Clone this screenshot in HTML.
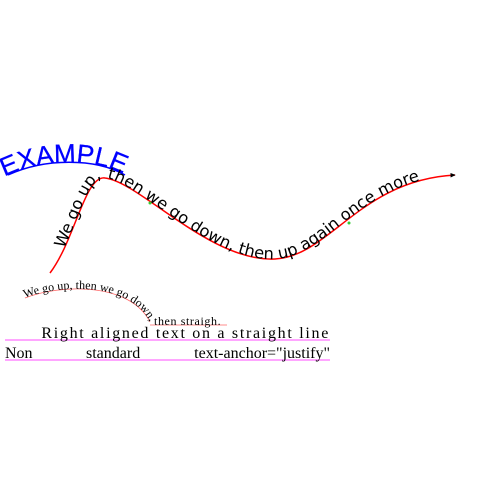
<!DOCTYPE html>
<html><head><meta charset="utf-8"><style>html,body{margin:0;padding:0;background:#fff}svg{display:block}</style></head>
<body>
<svg width="500" height="500" viewBox="0 0 500 500" xmlns="http://www.w3.org/2000/svg">
<defs>
<path id="main" d="M50,273 C75,240 85,175 105,178 C140,182 210,262 275,259 C330,256 360,180 455,175"/>
<path id="blue" d="M8,175 C45,158 95,158 125,175"/>
<path id="arc" d="M25,298 C60,284 130,282 150,322"/>
<path id="flat" d="M150,325 L227,325"/>
<marker id="arr" markerWidth="4" markerHeight="4" refX="3" refY="2" orient="auto"><path d="M0,0.5 L3.5,2 L0,3.5z" fill="#000"/></marker>
</defs>
<use href="#blue" fill="none" stroke="#0000ff" stroke-width="1.5"/>
<text font-family="'Liberation Sans',sans-serif" font-size="26" fill="#0000ff" stroke="#0000ff" stroke-width="0.3"><textPath href="#blue" startOffset="-4">EXAMPLE</textPath></text>
<use href="#main" fill="none" stroke="#ff0000" stroke-width="1.5" marker-end="url(#arr)"/>
<circle cx="150" cy="203" r="1.5" fill="#33cc33"/>
<circle cx="349" cy="223" r="1.5" fill="#33cc33"/>
<text font-family="'DejaVu Sans',sans-serif" font-size="16.3" letter-spacing="0" fill="#000"><textPath href="#main" startOffset="28">We go up, then we go down, then up again once more</textPath></text>
<use href="#arc" fill="none" stroke="#ff6666" stroke-width="0.8"/>
<use href="#flat" fill="none" stroke="#ff6666" stroke-width="0.8"/>
<text font-family="'Liberation Serif',serif" font-size="12" fill="#000"><textPath href="#arc">We go up, then we go down,</textPath></text>
<text font-family="'Liberation Serif',serif" font-size="12" fill="#000" letter-spacing="0.6"><textPath href="#flat" startOffset="4">then straigh.</textPath></text>
<line x1="5" y1="340" x2="330" y2="340" stroke="#ff88ff" stroke-width="1.5"/>
<text x="330" y="338" text-anchor="end" font-family="'Liberation Serif',serif" font-size="16" letter-spacing="1.7" fill="#000">Right aligned text on a straight line</text>
<line x1="5" y1="360" x2="330" y2="360" stroke="#ff88ff" stroke-width="1.5"/>
<text x="5" y="358" font-family="'Liberation Serif',serif" font-size="16" fill="#000">Non</text>
<text x="86" y="358" font-family="'Liberation Serif',serif" font-size="16" fill="#000">standard</text>
<text x="330" y="358" text-anchor="end" font-family="'Liberation Serif',serif" font-size="16" fill="#000">text-anchor="justify"</text>
</svg>
</body></html>
